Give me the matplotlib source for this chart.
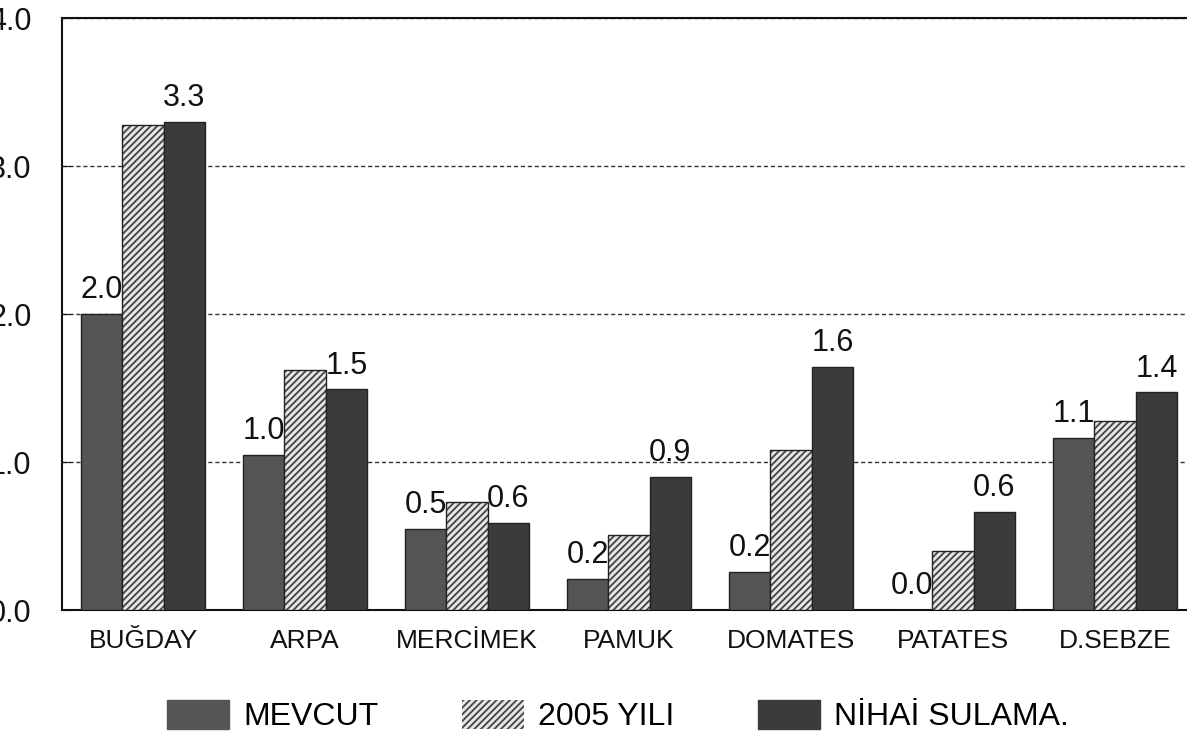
import matplotlib
matplotlib.use("Agg")
import matplotlib.pyplot as plt
from matplotlib.patches import Patch
import numpy as np

# crop names and the three series
crops = ["BUĞDAY", "ARPA", "MERCİMEK", "PAMUK", "DOMATES", "PATATES", "D.SEBZE"]
mevcut = [2.0, 1.05, 0.55, 0.21, 0.26, 0.0, 1.16]
yil_2005 = [3.28, 1.62, 0.73, 0.51, 1.08, 0.40, 1.28]
nihai = [3.3, 1.49, 0.59, 0.9, 1.64, 0.66, 1.47]
mevcut_labels = ["2.0", "1.0", "0.5", "0.2", "0.2", "0.0", "1.1"]
nihai_labels = ["3.3", "1.5", "0.6", "0.9", "1.6", "0.6", "1.4"]
series_names = ["MEVCUT", "2005 YILI", "NİHAİ SULAMA."]
yticks = [0, 1, 2, 3, 4]
ytick_labels = ["0.0", "1.0", "2.0", "3.0", "4.0"]

plt.rcParams['font.family'] = ['Liberation Sans', 'DejaVu Sans']
plt.rcParams['hatch.linewidth'] = 2.0

W, H = 1187, 744
fig = plt.figure(figsize=(W / 100, H / 100), dpi=100)
left = 62 / W
ax = fig.add_axes([left, 134 / H, 1.0 - left, 592 / H])

x = np.arange(len(crops))
w = 0.255
c_mev = '#555555'
c_2005 = '#4a4a4a'
c_nih = '#3b3b3b'

# gridlines
ax.yaxis.grid(True, linestyle=(0, (3, 2)), color='#333333', linewidth=1.0, zorder=1)
ax.set_axisbelow(True)

ax.bar(x - w, mevcut, w, color=c_mev, edgecolor='#222222', linewidth=1, zorder=3)
# hatched bars: white hatch, then black outline
ax.bar(x, yil_2005, w, color=c_2005, edgecolor='#e8e8e8', hatch='/////', linewidth=0, zorder=3)
ax.bar(x, yil_2005, w, color='none', edgecolor='#222222', linewidth=1, zorder=3)
ax.bar(x + w, nihai, w, color=c_nih, edgecolor='#222222', linewidth=1, zorder=3)

# value labels (drawn under the bars so neighbours cover them)
for i in range(len(crops)):
    ax.text(x[i] - w, mevcut[i] + 0.06, mevcut_labels[i], ha='center', va='bottom',
            fontsize=22, color='#111111', zorder=2)
    ax.text(x[i] + w, nihai[i] + 0.06, nihai_labels[i], ha='center', va='bottom',
            fontsize=22, color='#111111', zorder=2)

ax.set_xlim(-0.5, 6.444)
ax.set_ylim(0, 4.0)
ax.set_yticks(yticks)
ax.set_yticklabels(ytick_labels, fontsize=22)
ax.set_xticks(x)
ax.set_xticklabels(crops, fontsize=19)
ax.tick_params(axis='y', direction='in', length=6, pad=22, colors='#111111')
ax.tick_params(axis='x', length=0, pad=14, colors='#111111')

for s in ['left', 'bottom', 'top']:
    ax.spines[s].set_color('#111111')
    ax.spines[s].set_linewidth(1.5)
ax.spines['right'].set_visible(False)

handles = [
    Patch(facecolor=c_mev, edgecolor=c_mev),
    Patch(facecolor=c_2005, edgecolor='#e8e8e8', hatch='/////', linewidth=0),
    Patch(facecolor=c_nih, edgecolor=c_nih),
]
fig.legend(handles, series_names, loc='center', bbox_to_anchor=(618 / W, 1 - 716 / H),
           ncol=3, frameon=False, fontsize=23, handlelength=1.95, handleheight=1.05,
           handletextpad=0.45, columnspacing=2.6)

fig.savefig("out.png", dpi=100)
